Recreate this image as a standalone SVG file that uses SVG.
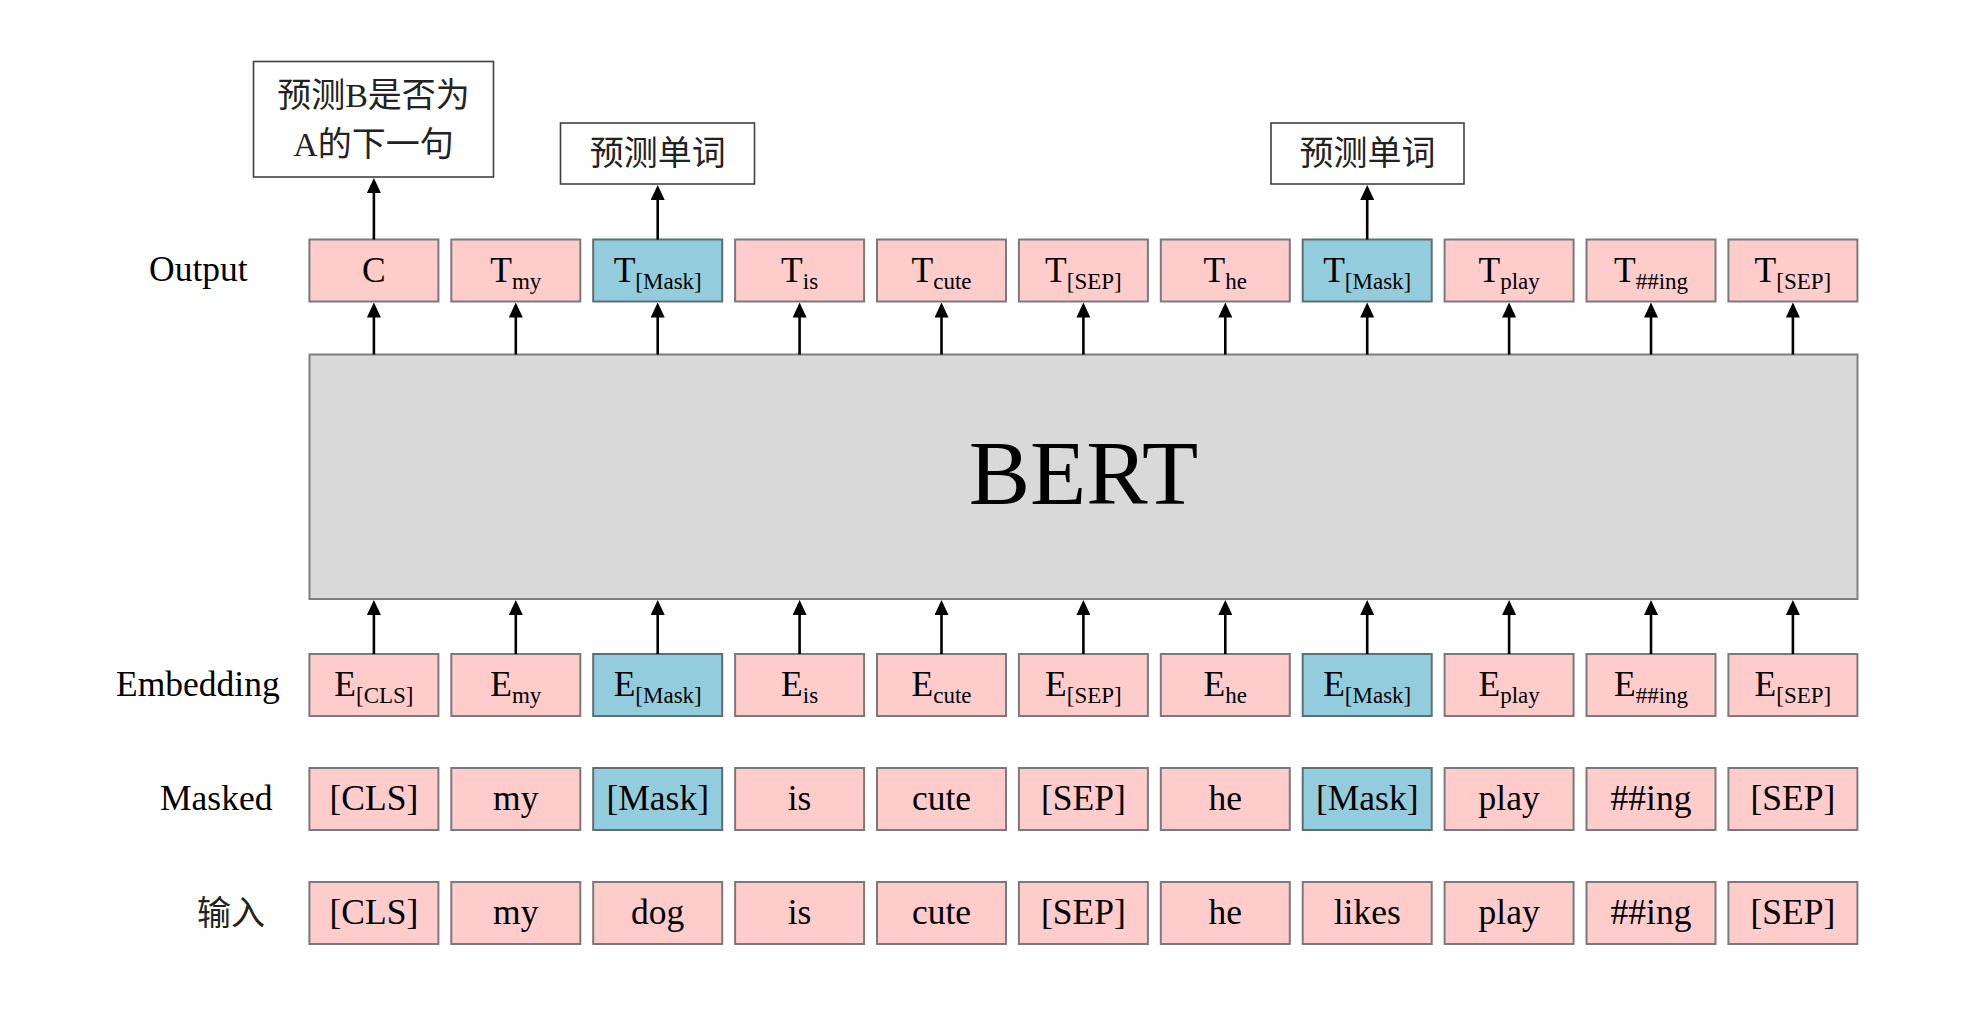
<svg xmlns="http://www.w3.org/2000/svg" width="1964" height="1016" viewBox="0 0 1964 1016">
<style>
text{font-family:"Liberation Serif","Noto Sans CJK SC",serif;fill:#000;}
.lbl{font-size:35.5px;}
.tok{font-size:35.5px;text-anchor:middle;}
.sub{font-size:23px;}
.cjk{font-family:"Noto Sans CJK SC","Liberation Serif",sans-serif;font-size:34px;text-anchor:middle;fill:#222;}
.p{fill:#FFCCCC;stroke:#7A7A7A;stroke-width:2;}
.b{fill:#93CDDD;stroke:#5E6E72;stroke-width:2;}
.w{fill:#FFFFFF;stroke:#404040;stroke-width:1.6;}
.bert{fill:#D9D9D9;stroke:#7F7F7F;stroke-width:2;}
.arr{stroke:#000;stroke-width:2.6;fill:none;marker-end:url(#ah);}
</style>
<defs>
<marker id="ah" markerUnits="userSpaceOnUse" markerWidth="16" markerHeight="14" refX="7" refY="7" orient="auto">
<path d="M0,0 L15,7 L0,14 z" fill="#000"/>
</marker>
</defs>
<rect width="1964" height="1016" fill="#fff"/>

<g id="labels">
<text class="lbl" x="149" y="281">Output</text>
<text class="lbl" x="116" y="696">Embedding</text>
<text class="lbl" x="160" y="810">Masked</text>
<text class="cjk" x="231" y="925">输入</text>
</g>

<g id="pred-nsp"><rect class="w" x="253.5" y="61.5" width="240" height="115.5"/>
<text class="cjk" x="373.5" y="107">预测<tspan font-family="Liberation Serif">B</tspan>是否为</text>
<text class="cjk" x="373.5" y="156"><tspan font-family="Liberation Serif">A</tspan>的下一句</text></g>
<g id="pred-word-1"><rect class="w" x="560.5" y="123" width="194" height="61"/><text class="cjk" x="657.7" y="165">预测单词</text></g>
<g id="pred-word-2"><rect class="w" x="1271" y="123" width="193" height="61"/><text class="cjk" x="1367.5" y="165">预测单词</text></g>

<g id="bert"><rect class="bert" x="309.5" y="354.5" width="1548" height="244.5"/>
<text x="1083.5" y="504" font-size="92" text-anchor="middle">BERT</text></g>

<g id="out-0"><rect class="p" x="309.4" y="239.5" width="129" height="62"/><text class="tok" x="373.9" y="282">C</text></g>
<g id="out-1"><rect class="p" x="451.3" y="239.5" width="129" height="62"/><text class="tok" x="515.8" y="282">T<tspan class="sub" dy="7">my</tspan></text></g>
<g id="out-2"><rect class="b" x="593.2" y="239.5" width="129" height="62"/><text class="tok" x="657.7" y="282">T<tspan class="sub" dy="7">[Mask]</tspan></text></g>
<g id="out-3"><rect class="p" x="735.1" y="239.5" width="129" height="62"/><text class="tok" x="799.6" y="282">T<tspan class="sub" dy="7">is</tspan></text></g>
<g id="out-4"><rect class="p" x="877" y="239.5" width="129" height="62"/><text class="tok" x="941.5" y="282">T<tspan class="sub" dy="7">cute</tspan></text></g>
<g id="out-5"><rect class="p" x="1018.9" y="239.5" width="129" height="62"/><text class="tok" x="1083.4" y="282">T<tspan class="sub" dy="7">[SEP]</tspan></text></g>
<g id="out-6"><rect class="p" x="1160.8" y="239.5" width="129" height="62"/><text class="tok" x="1225.3" y="282">T<tspan class="sub" dy="7">he</tspan></text></g>
<g id="out-7"><rect class="b" x="1302.7" y="239.5" width="129" height="62"/><text class="tok" x="1367.2" y="282">T<tspan class="sub" dy="7">[Mask]</tspan></text></g>
<g id="out-8"><rect class="p" x="1444.6" y="239.5" width="129" height="62"/><text class="tok" x="1509.1" y="282">T<tspan class="sub" dy="7">play</tspan></text></g>
<g id="out-9"><rect class="p" x="1586.5" y="239.5" width="129" height="62"/><text class="tok" x="1651" y="282">T<tspan class="sub" dy="7">##ing</tspan></text></g>
<g id="out-10"><rect class="p" x="1728.4" y="239.5" width="129" height="62"/><text class="tok" x="1792.9" y="282">T<tspan class="sub" dy="7">[SEP]</tspan></text></g>

<g id="emb-0"><rect class="p" x="309.4" y="654" width="129" height="62"/><text class="tok" x="373.9" y="696">E<tspan class="sub" dy="7">[CLS]</tspan></text></g>
<g id="emb-1"><rect class="p" x="451.3" y="654" width="129" height="62"/><text class="tok" x="515.8" y="696">E<tspan class="sub" dy="7">my</tspan></text></g>
<g id="emb-2"><rect class="b" x="593.2" y="654" width="129" height="62"/><text class="tok" x="657.7" y="696">E<tspan class="sub" dy="7">[Mask]</tspan></text></g>
<g id="emb-3"><rect class="p" x="735.1" y="654" width="129" height="62"/><text class="tok" x="799.6" y="696">E<tspan class="sub" dy="7">is</tspan></text></g>
<g id="emb-4"><rect class="p" x="877" y="654" width="129" height="62"/><text class="tok" x="941.5" y="696">E<tspan class="sub" dy="7">cute</tspan></text></g>
<g id="emb-5"><rect class="p" x="1018.9" y="654" width="129" height="62"/><text class="tok" x="1083.4" y="696">E<tspan class="sub" dy="7">[SEP]</tspan></text></g>
<g id="emb-6"><rect class="p" x="1160.8" y="654" width="129" height="62"/><text class="tok" x="1225.3" y="696">E<tspan class="sub" dy="7">he</tspan></text></g>
<g id="emb-7"><rect class="b" x="1302.7" y="654" width="129" height="62"/><text class="tok" x="1367.2" y="696">E<tspan class="sub" dy="7">[Mask]</tspan></text></g>
<g id="emb-8"><rect class="p" x="1444.6" y="654" width="129" height="62"/><text class="tok" x="1509.1" y="696">E<tspan class="sub" dy="7">play</tspan></text></g>
<g id="emb-9"><rect class="p" x="1586.5" y="654" width="129" height="62"/><text class="tok" x="1651" y="696">E<tspan class="sub" dy="7">##ing</tspan></text></g>
<g id="emb-10"><rect class="p" x="1728.4" y="654" width="129" height="62"/><text class="tok" x="1792.9" y="696">E<tspan class="sub" dy="7">[SEP]</tspan></text></g>

<g id="mask-0"><rect class="p" x="309.4" y="768" width="129" height="62"/><text class="tok" x="373.9" y="810">[CLS]</text></g>
<g id="mask-1"><rect class="p" x="451.3" y="768" width="129" height="62"/><text class="tok" x="515.8" y="810">my</text></g>
<g id="mask-2"><rect class="b" x="593.2" y="768" width="129" height="62"/><text class="tok" x="657.7" y="810">[Mask]</text></g>
<g id="mask-3"><rect class="p" x="735.1" y="768" width="129" height="62"/><text class="tok" x="799.6" y="810">is</text></g>
<g id="mask-4"><rect class="p" x="877" y="768" width="129" height="62"/><text class="tok" x="941.5" y="810">cute</text></g>
<g id="mask-5"><rect class="p" x="1018.9" y="768" width="129" height="62"/><text class="tok" x="1083.4" y="810">[SEP]</text></g>
<g id="mask-6"><rect class="p" x="1160.8" y="768" width="129" height="62"/><text class="tok" x="1225.3" y="810">he</text></g>
<g id="mask-7"><rect class="b" x="1302.7" y="768" width="129" height="62"/><text class="tok" x="1367.2" y="810">[Mask]</text></g>
<g id="mask-8"><rect class="p" x="1444.6" y="768" width="129" height="62"/><text class="tok" x="1509.1" y="810">play</text></g>
<g id="mask-9"><rect class="p" x="1586.5" y="768" width="129" height="62"/><text class="tok" x="1651" y="810">##ing</text></g>
<g id="mask-10"><rect class="p" x="1728.4" y="768" width="129" height="62"/><text class="tok" x="1792.9" y="810">[SEP]</text></g>

<g id="in-0"><rect class="p" x="309.4" y="882" width="129" height="62"/><text class="tok" x="373.9" y="924">[CLS]</text></g>
<g id="in-1"><rect class="p" x="451.3" y="882" width="129" height="62"/><text class="tok" x="515.8" y="924">my</text></g>
<g id="in-2"><rect class="p" x="593.2" y="882" width="129" height="62"/><text class="tok" x="657.7" y="924">dog</text></g>
<g id="in-3"><rect class="p" x="735.1" y="882" width="129" height="62"/><text class="tok" x="799.6" y="924">is</text></g>
<g id="in-4"><rect class="p" x="877" y="882" width="129" height="62"/><text class="tok" x="941.5" y="924">cute</text></g>
<g id="in-5"><rect class="p" x="1018.9" y="882" width="129" height="62"/><text class="tok" x="1083.4" y="924">[SEP]</text></g>
<g id="in-6"><rect class="p" x="1160.8" y="882" width="129" height="62"/><text class="tok" x="1225.3" y="924">he</text></g>
<g id="in-7"><rect class="p" x="1302.7" y="882" width="129" height="62"/><text class="tok" x="1367.2" y="924">likes</text></g>
<g id="in-8"><rect class="p" x="1444.6" y="882" width="129" height="62"/><text class="tok" x="1509.1" y="924">play</text></g>
<g id="in-9"><rect class="p" x="1586.5" y="882" width="129" height="62"/><text class="tok" x="1651" y="924">##ing</text></g>
<g id="in-10"><rect class="p" x="1728.4" y="882" width="129" height="62"/><text class="tok" x="1792.9" y="924">[SEP]</text></g>

<g id="connectors">
<line class="arr" x1="373.9" y1="239.5" x2="373.9" y2="186"/>
<line class="arr" x1="657.7" y1="239.5" x2="657.7" y2="193"/>
<line class="arr" x1="1367.2" y1="239.5" x2="1367.2" y2="193"/>
<line class="arr" x1="373.9" y1="354.5" x2="373.9" y2="310.5"/>
<line class="arr" x1="515.8" y1="354.5" x2="515.8" y2="310.5"/>
<line class="arr" x1="657.7" y1="354.5" x2="657.7" y2="310.5"/>
<line class="arr" x1="799.6" y1="354.5" x2="799.6" y2="310.5"/>
<line class="arr" x1="941.5" y1="354.5" x2="941.5" y2="310.5"/>
<line class="arr" x1="1083.4" y1="354.5" x2="1083.4" y2="310.5"/>
<line class="arr" x1="1225.3" y1="354.5" x2="1225.3" y2="310.5"/>
<line class="arr" x1="1367.2" y1="354.5" x2="1367.2" y2="310.5"/>
<line class="arr" x1="1509.1" y1="354.5" x2="1509.1" y2="310.5"/>
<line class="arr" x1="1651" y1="354.5" x2="1651" y2="310.5"/>
<line class="arr" x1="1792.9" y1="354.5" x2="1792.9" y2="310.5"/>
<line class="arr" x1="373.9" y1="654" x2="373.9" y2="608"/>
<line class="arr" x1="515.8" y1="654" x2="515.8" y2="608"/>
<line class="arr" x1="657.7" y1="654" x2="657.7" y2="608"/>
<line class="arr" x1="799.6" y1="654" x2="799.6" y2="608"/>
<line class="arr" x1="941.5" y1="654" x2="941.5" y2="608"/>
<line class="arr" x1="1083.4" y1="654" x2="1083.4" y2="608"/>
<line class="arr" x1="1225.3" y1="654" x2="1225.3" y2="608"/>
<line class="arr" x1="1367.2" y1="654" x2="1367.2" y2="608"/>
<line class="arr" x1="1509.1" y1="654" x2="1509.1" y2="608"/>
<line class="arr" x1="1651" y1="654" x2="1651" y2="608"/>
<line class="arr" x1="1792.9" y1="654" x2="1792.9" y2="608"/>
</g>
</svg>
